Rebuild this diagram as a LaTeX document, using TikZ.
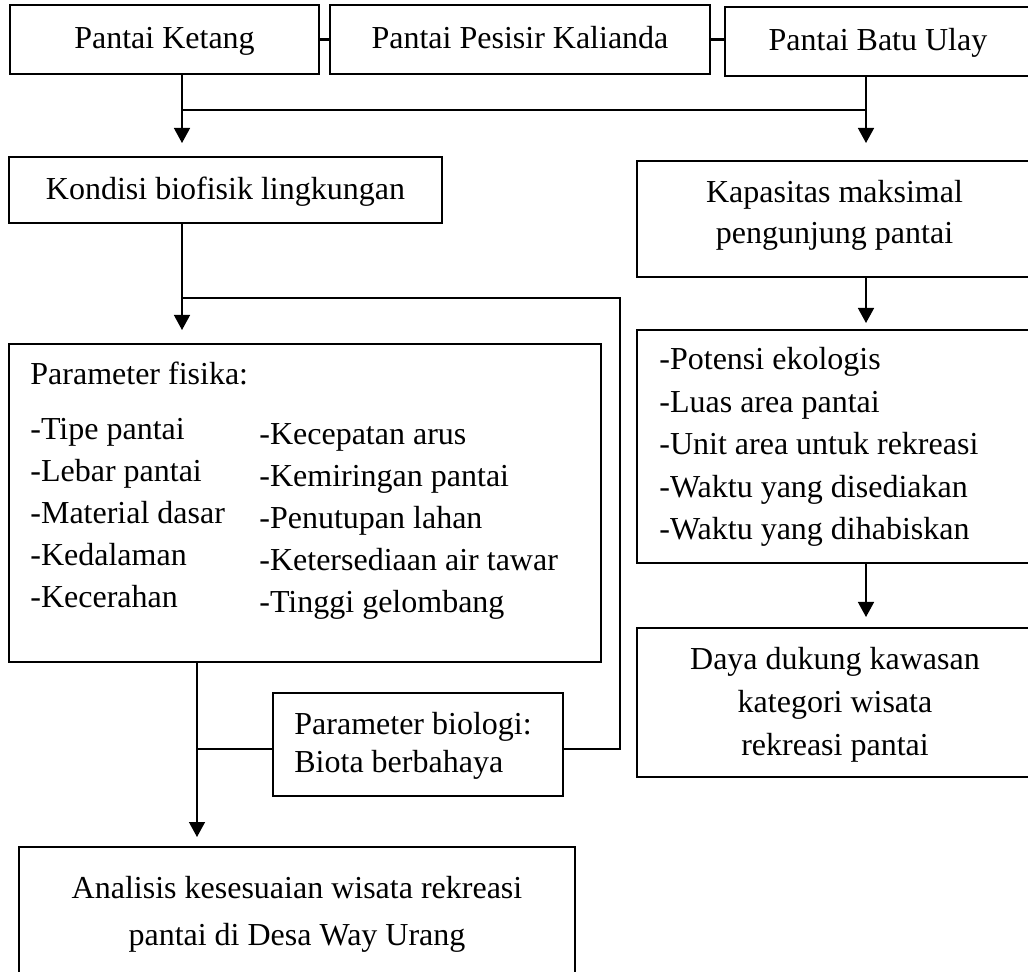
\documentclass[tikz,border=0pt]{standalone}
\usepackage{fontspec}
\setmainfont{Liberation Serif}
\usetikzlibrary{arrows.meta}
\newcommand{\topstrut}{\rule{0pt}{12.5pt}}
\begin{document}
\begin{tikzpicture}[x=0.5pt,y=-0.5pt,
  box/.style={draw, line width=1.3pt, inner sep=0pt, align=center, text height=12.5pt, text depth=3pt, font=\fontsize{16}{20}\selectfont},
  txt/.style={inner sep=0pt, anchor=base west, font=\fontsize{16}{19}\selectfont},
  ctxt/.style={inner sep=0pt, anchor=north, align=center},
  conn/.style={line width=0.7pt},
  link/.style={line width=1.1pt},
  arr/.style={conn, -{Triangle[length=7.5pt,width=8pt]}}]
\useasboundingbox (0,0) rectangle (1028,972);
\clip (0,0) rectangle (1028,972);

% top row
\node[box, minimum width=154.5pt, minimum height=34.5pt] (b1) at (164.5,39.5) {Pantai Ketang};
\node[box, minimum width=190pt, minimum height=34.5pt] (b2) at (520,39.5) {Pantai Pesisir Kalianda};
\node[box, minimum width=153pt, minimum height=34.5pt] (b3) at (878,41.5) {Pantai Batu Ulay};

% left column
\node[box, minimum width=216.5pt, minimum height=33pt] (kon) at (225.5,190) {Kondisi biofisik lingkungan};
\node[box, minimum width=296pt, minimum height=159pt] (pf) at (305,503) {};
\node[txt] (pft) at (30,385) {Parameter fisika:};
\node[txt] (l1) at (30,440) {-Tipe pantai};
\node[txt] (l2) at (30,482) {-Lebar pantai};
\node[txt] (l3) at (30,523.5) {-Material dasar};
\node[txt] (l4) at (30,566) {-Kedalaman};
\node[txt] (l5) at (30,608) {-Kecerahan};
\node[txt] (r1) at (259,445) {-Kecepatan arus};
\node[txt] (r2) at (259,487) {-Kemiringan pantai};
\node[txt] (r3) at (259,528.5) {-Penutupan lahan};
\node[txt] (r4) at (259,571) {-Ketersediaan air tawar};
\node[txt] (r5) at (259,613) {-Tinggi gelombang};

\node[box, minimum width=145pt, minimum height=51.5pt] (bio) at (418,744.5) {};
\node[ctxt, anchor=north west, align=left, font=\fontsize{16}{19}\selectfont] (biot) at (294,709) {\topstrut Parameter biologi:\\Biota berbahaya};

\node[box, minimum width=278pt, minimum height=65.5pt] (ana) at (297,912.5) {};
\node[ctxt, font=\fontsize{16}{23.3}\selectfont] (anat) at (297,873) {\topstrut Analisis kesesuaian wisata rekreasi\\pantai di Desa Way Urang};

% right column
\node[box, minimum width=197.5pt, minimum height=58pt] (kap) at (834.5,219) {};
\node[ctxt, font=\fontsize{16}{20.8}\selectfont] (kapt) at (834.5,177) {\topstrut Kapasitas maksimal\\pengunjung pantai};
\node[box, minimum width=197.5pt, minimum height=116.5pt] (pot) at (834.5,446.5) {};
\node[txt] (p1) at (659,370) {-Potensi ekologis};
\node[txt] (p2) at (659,413) {-Luas area pantai};
\node[txt] (p3) at (659,455) {-Unit area untuk rekreasi};
\node[txt] (p4) at (659,498) {-Waktu yang disediakan};
\node[txt] (p5) at (659,540) {-Waktu yang dihabiskan};
\node[box, minimum width=197.5pt, minimum height=74.5pt] (daya) at (834.5,702.5) {};
\node[ctxt, font=\fontsize{16}{21.5}\selectfont] (dayat) at (835,644) {\topstrut Daya dukung kawasan\\kategori wisata\\rekreasi pantai};

% junctions and arrow ends
\coordinate (j1) at (182,110);
\coordinate (j2) at (866,110);
\coordinate (t1) at (182,143);
\coordinate (t2) at (866,143);
\coordinate (j3) at (182,298);
\coordinate (j4) at (620,298);
\coordinate (j5) at (620,749);
\coordinate (t3) at (182,330);
\coordinate (j6) at (197,749);
\coordinate (t4) at (197,837);
\coordinate (t5) at (866,323);
\coordinate (t6) at (866,617);

% connectors
\draw[link] (b1.east) -- (b2.west);
\draw[link] (b2.east) -- (b2.east -| b3.west);
\draw[conn] (b1.south -| j1) -- (j1) -- (j2) -- (b3.south -| j2);
\draw[arr] (j1) -- (t1);
\draw[arr] (j2) -- (t2);
\draw[conn] (kon.south -| j3) -- (j3) -- (j4) -- (j5) -- (j5 -| bio.east);
\draw[arr] (j3) -- (t3);
\draw[conn] (j6) -- (j6 -| bio.west);
\draw[arr] (pf.south -| j6) -- (t4);
\draw[arr] (kap.south -| t5) -- (t5);
\draw[arr] (pot.south -| t6) -- (t6);
\end{tikzpicture}
\end{document}
